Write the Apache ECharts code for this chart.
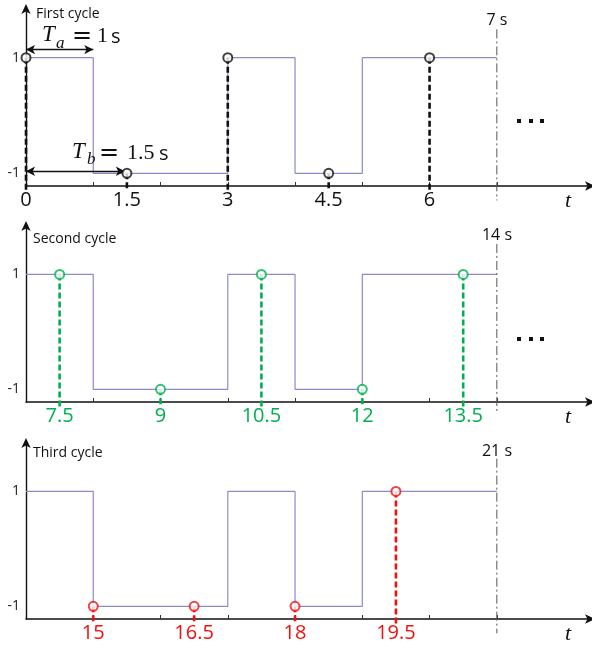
<!DOCTYPE html>
<html>
<head>
<meta charset="utf-8">
<script src="https://cdn.jsdelivr.net/npm/echarts@6/dist/echarts.min.js"></script>
<style>html,body{margin:0;padding:0;background:#fff}#c{width:592px;height:648px}</style>
</head>
<body>
<div id="c"></div>
<script>
// ---- data ----
const waveT1 = [0, 1, 3, 4, 5, 7];
const waveT2 = [7, 8, 10, 11, 12, 14];
const waveT3 = [14, 15, 17, 18, 19, 21];
const waveV = [1, -1, 1, -1, 1, 1];

const sampleT1 = [0, 1.5, 3, 4.5, 6];
const sampleV1 = [1, -1, 1, -1, 1];
const sampleT2 = [7.5, 9, 10.5, 12, 13.5];
const sampleV2 = [1, -1, 1, -1, 1];
const sampleT3 = [15, 16.5, 18, 19.5];
const sampleV3 = [-1, -1, -1, 1];

const tickT1 = [1, 2, 3, 4, 5, 6, 7];
const tickT2 = [8, 9, 10, 11, 12, 13, 14];
const tickT3 = [15, 16, 17, 18, 19, 20, 21];
const yLabels = [-1, 1];
const cycleStart = [0, 7, 14];
const cycleEnd = [7, 14, 21];
const cycleNames = ['First cycle', 'Second cycle', 'Third cycle'];
const endLabels = ['7 s', '14 s', '21 s'];

// ---- style / layout ----
const FONT = "'Open Sans', 'Noto Sans', sans-serif";
const SERIF = "'Liberation Serif', 'DejaVu Serif', serif";
const colors = ['#111111', '#00b050', '#f01010'];
const waveColor = '#8b8bc9';
const Y_MIN = -1.22, Y_MAX = 1.86;
const SPAN = 8.4;
const grids = [
  {left: 26, top: 8, width: 565, height: 178},
  {left: 26, top: 225, width: 565, height: 177},
  {left: 26, top: 442, width: 565, height: 177}
];
const waves = [waveT1, waveT2, waveT3];
const samples = [[sampleT1, sampleV1], [sampleT2, sampleV2], [sampleT3, sampleV3]];
const ticks = [tickT1, tickT2, tickT3];
const ddTop = [1.49, 1.53, 1.57];
const ddBot = [-1.47, -1.43, -1.47];

const xAxes = [], yAxes = [], series = [];
for (let p = 0; p < 3; p++) {
  xAxes.push({
    gridIndex: p, type: 'value', min: cycleStart[p], max: cycleStart[p] + SPAN,
    axisLine: {show: true, onZero: false, symbol: ['none', 'arrow'], symbolSize: [7, 10], symbolOffset: [0, 4],
      lineStyle: {color: '#111', width: 1.6}},
    axisTick: {show: true, inside: true, length: 4, customValues: ticks[p], lineStyle: {color: '#333', width: 1}},
    axisLabel: {show: true, customValues: samples[p][0], color: colors[p], fontSize: 20,
      fontFamily: FONT, margin: 4, formatter: v => String(v)},
    splitLine: {show: false}
  });
  yAxes.push({
    gridIndex: p, type: 'value', min: Y_MIN, max: Y_MAX,
    axisLine: {show: true, onZero: false, symbol: ['none', 'arrow'], symbolSize: [7, 10], symbolOffset: [0, 4],
      lineStyle: {color: '#111', width: 1.4}},
    axisTick: {show: false},
    axisLabel: {show: true, customValues: yLabels, color: '#222', fontSize: 14, fontFamily: FONT, margin: 6},
    splitLine: {show: false}
  });
  // square wave
  series.push({
    type: 'line', xAxisIndex: p, yAxisIndex: p, step: 'end', showSymbol: false, silent: true,
    data: waves[p].map((t, i) => [t, waveV[i]]),
    lineStyle: {color: waveColor, width: 1.2}, z: 2
  });
  // stems
  const [st, sv] = samples[p];
  st.forEach((t, i) => {
    series.push({
      type: 'line', xAxisIndex: p, yAxisIndex: p, showSymbol: false, silent: true, clip: false,
      data: [[t, sv[i]], [t, -1.3]],
      lineStyle: {color: colors[p], width: 2.6, type: [6, 3]}, z: 3
    });
  });
  // samples
  series.push({
    type: 'scatter', xAxisIndex: p, yAxisIndex: p, symbol: 'emptyCircle', symbolSize: 9,
    data: st.map((t, i) => [t, sv[i]]),
    itemStyle: {color: colors[p], borderColor: colors[p], borderWidth: 2}, z: 5, clip: false
  });
  // cycle end dash-dot line
  series.push({
    type: 'line', xAxisIndex: p, yAxisIndex: p, showSymbol: false, silent: true, clip: false,
    data: [[cycleEnd[p], ddTop[p]], [cycleEnd[p], ddBot[p]]],
    lineStyle: {color: '#555', width: 1, type: [9, 3, 2, 3]}, z: 2
  });
}
// period annotation arrows (panel 1)
series.push({
  type: 'line', xAxisIndex: 0, yAxisIndex: 0, data: [], silent: true,
  markLine: {
    silent: true, symbol: ['arrow', 'arrow'], symbolSize: [7, 9],
    label: {show: false}, lineStyle: {color: '#111', width: 1.3, type: 'solid'},
    data: [
      [{coord: [0, 1.14]}, {coord: [1, 1.14]}],
      [{coord: [0, -0.965]}, {coord: [1.47, -0.965]}]
    ]
  }
});

const txt = (x, y, text, size, font, extra) => ({
  type: 'text', x: x, y: y, silent: true, z: 10,
  style: Object.assign({text: text, fontSize: size, fontFamily: font, fill: '#111',
    verticalAlign: 'middle', align: 'left'}, extra || {})
});
const graphic = [];
const titleY = [14, 239, 453];
const endY = [20, 235, 451];
const tY = [201, 417, 634];
for (let p = 0; p < 3; p++) {
  graphic.push(txt(p === 0 ? 36 : 33, titleY[p], cycleNames[p], 14, FONT));
  graphic.push(txt(497, endY[p], endLabels[p], 16, FONT, {align: 'center'}));
  graphic.push(txt(568, tY[p], 't', 22, SERIF, {fontStyle: 'italic', align: 'center'}));
}
// ellipses
[119, 337].forEach(y => {
  [517, 529, 540].forEach(x => graphic.push({type: 'rect', shape: {x: x, y: y, width: 4, height: 4}, style: {fill: '#111'}, silent: true}));
});
const EQ = "'DejaVu Sans', sans-serif";
// T_a = 1 s
graphic.push(txt(42, 35, 'T', 23, SERIF, {fontStyle: 'italic'}));
graphic.push(txt(56, 44, 'a', 17, SERIF, {fontStyle: 'italic'}));
graphic.push(txt(72, 37, '=', 24, EQ));
graphic.push(txt(97, 36, '1', 22, SERIF));
graphic.push(txt(111, 37, 's', 20, FONT));
// T_b = 1.5 s
graphic.push(txt(72, 152, 'T', 23, SERIF, {fontStyle: 'italic'}));
graphic.push(txt(87, 160, 'b', 17, SERIF, {fontStyle: 'italic'}));
graphic.push(txt(99, 154, '=', 24, EQ));
graphic.push(txt(127, 153, '1.5', 22, SERIF));
graphic.push(txt(159, 154, 's', 20, FONT));

const chart = echarts.init(document.getElementById('c'), null, {renderer: 'canvas'});
chart.setOption({
  animation: false,
  backgroundColor: '#fff',
  grid: grids,
  xAxis: xAxes,
  yAxis: yAxes,
  series: series,
  graphic: graphic
});
</script>
</body>
</html>
